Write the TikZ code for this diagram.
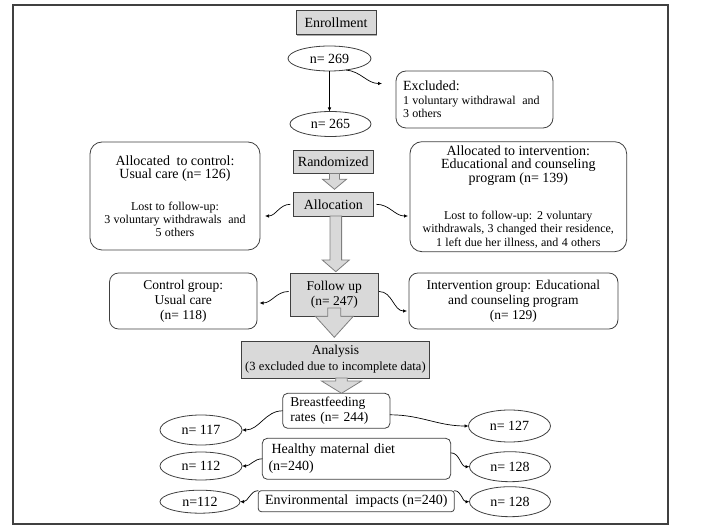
\documentclass[tikz,border=0pt]{standalone}
\usepackage{fontspec}
\setmainfont{Liberation Serif}
\usetikzlibrary{shapes.geometric,arrows.meta,calc,shadows}

\definecolor{boxgray}{HTML}{D9D9D9}
\definecolor{edgecol}{HTML}{404040}
\definecolor{arrowedge}{HTML}{7F7F7F}

\tikzset{
  every node/.style={inner sep=0pt, outer sep=0pt},
  graybox/.style={draw=edgecol, fill=boxgray, line width=0.8pt, rectangle},
  roundbox/.style={draw=edgecol, fill=white, line width=0.8pt, rectangle},
  ovalnode/.style={draw=edgecol, fill=white, line width=0.8pt, ellipse},
  conn/.style={draw=black, line width=0.7pt, -{Latex[length=4pt,width=3.6pt]}},
  blockarr/.style={draw=arrowedge, fill=boxgray, line width=0.8pt, line join=miter},
  txtbig/.style={font=\fontsize{14}{14}\selectfont},
  txtmid/.style={font=\fontsize{13.5}{15}\selectfont},
}

% block arrow: #1 from, #2 to, #3 x offset, #4 shaft half, #5 head half, #6 head length, #7 tip gap
\newcommand{\blkarrow}[7]{%
  \draw[blockarr] let \p1=#1, \p2=#2 in
    (\x1+#3-#4,\y1) -- (\x1+#3-#4,\y2+#7+#6) -- (\x1+#3-#5,\y2+#7+#6)
    -- (\x1+#3,\y2+#7) -- (\x1+#3+#5,\y2+#7+#6) -- (\x1+#3+#4,\y2+#7+#6)
    -- (\x1+#3+#4,\y1) -- cycle;}

\begin{document}
\begin{tikzpicture}[x=1pt,y=-1pt]
\useasboundingbox (0,0) rectangle (705,529);
\draw[edgecol, line width=1.3pt] (13,5) rectangle (668,524);

% top
\node[graybox, txtbig, minimum width=80pt, minimum height=23.5pt,
      drop shadow={shadow xshift=1.3pt, shadow yshift=-1.3pt, fill=gray!80, opacity=0.8}]
      (enroll) at (336,22.5) {Enrollment};
\node[ovalnode, txtbig, minimum width=83pt, minimum height=25pt] (n269) at (329.5,58.5) {n= 269};
\node[ovalnode, txtbig, minimum width=81pt, minimum height=25pt] (n265) at (330.5,124) {n= 265};
\node[roundbox, rounded corners=10pt, minimum width=157pt, minimum height=57pt,
      text width=143pt, align=left] (excl) at (474.5,99.5)
  {{\fontsize{14}{14}\selectfont Excluded:\par}{\fontsize{12}{13.5}\selectfont 1 voluntary withdrawal\ \ and\\3 others\par}};
\coordinate (exA) at (382,83.5);
\draw[conn] (n269.south) -- (n269.south |- n265.north);
\draw[conn] (n269.-35) to[out=-5,in=180] (exA);

% randomization / allocation
\node[graybox, txtbig, minimum width=80pt, minimum height=23.5pt] (random) at (333.3,161.7) {Randomized};
\node[graybox, txtbig, minimum width=80pt, minimum height=23.5pt] (alloc) at (333.3,204.3) {Allocation};
\blkarrow{(random.south)}{(alloc.north)}{1.2}{5}{12}{10}{3.3}

\node[roundbox, rounded corners=12pt, minimum width=170pt, minimum height=108pt,
      text width=164pt, align=center] (ctrl) at (175,196)
  {{\fontsize{14}{13.6}\selectfont Allocated\ \ to control:\\Usual care (n= 126)\par}\vspace{18.5pt}%
   {\fontsize{12}{13}\selectfont Lost to follow-up:\\3 voluntary withdrawals\ \ and\\5 others\par}};
\node[roundbox, rounded corners=12pt, minimum width=216.7pt, minimum height=110pt,
      text width=210pt, align=center] (interv) at (518.3,196.7)
  {{\fontsize{14}{13.8}\selectfont Allocated to intervention:\\Educational and counseling\\program (n= 139)\par}\vspace{23pt}%
   {\fontsize{12}{13.5}\selectfont Lost to follow-up: 2 voluntary\\withdrawals,\ 3 changed their residence,\\1 left due her illness, and 4 others\par}};
\coordinate (alA) at (265,216);
\coordinate (alB) at (408,216);
\draw[conn] ([xshift=-3pt]alloc.west) to[out=180,in=0] (alA);
\draw[conn] ([xshift=3pt]alloc.east) to[out=0,in=180] (alB);

% follow up
\node[graybox, txtmid, minimum width=87.5pt, minimum height=43pt, align=center] (followup) at (334.3,294.5) {Follow up\\(n= 247)};
\blkarrow{(alloc.south)}{(followup.north)}{2.5}{5.8}{13.5}{11.7}{1.3}
\node[roundbox, rounded corners=9pt, txtmid, minimum width=147.5pt, minimum height=56pt, align=center] (ctrlgrp) at (183.3,301) {Control group:\\Usual care\\(n= 118)};
\node[roundbox, rounded corners=9pt, txtmid, minimum width=209pt, minimum height=56pt, align=center] (intgrp) at (513.4,301) {Intervention group: Educational\\and counseling program\\(n= 129)};
\coordinate (fuA) at (259.5,303);
\coordinate (fuB) at (407,311);
\draw[conn] ([xshift=-2pt,yshift=3pt]followup.west) to[out=180,in=0] (fuA);
\draw[conn] ([xshift=1pt,yshift=3pt]followup.east) to[out=0,in=180] (fuB);

% analysis
\node[graybox, minimum width=187.3pt, minimum height=37pt, text width=185pt, align=center] (analysis) at (335.4,359.5)
  {{\fontsize{13.5}{14}\selectfont Analysis\par}{\fontsize{12.5}{16}\selectfont (3 excluded due to incomplete\ data)\par}};
\blkarrow{([yshift=8pt]followup.south)}{(analysis.north)}{0}{6.5}{19}{21}{3.7}

% outcomes
\node[roundbox, rounded corners=5pt, minimum width=107.3pt, minimum height=35pt,
      text width=92pt, align=left, font=\fontsize{13.5}{15}\selectfont] (breast) at (336.3,410.8)
  {Breastfeeding\\rates (n= 244)};
\blkarrow{(analysis.south)}{(breast.north)}{6.1}{5.8}{20}{12.3}{0}
\node[roundbox, rounded corners=5pt, minimum width=188.4pt, minimum height=41pt,
      text width=176pt, align=left, font=\fontsize{14}{16.6}\selectfont] (healthy) at (356.5,458.8)
  {\hspace{3pt}Healthy maternal diet\\(n=240)};
\node[roundbox, rounded corners=3pt, minimum width=196pt, minimum height=21pt,
      txtbig] (env) at (356.3,501.2) {Environmental\ \ impacts (n=240)};

\node[ovalnode, txtbig, minimum width=82pt, minimum height=30pt] (n117) at (201,430) {n= 117};
\node[ovalnode, txtbig, minimum width=82pt, minimum height=32pt] (n127) at (509.5,426) {n= 127};
\node[ovalnode, txtbig, minimum width=82pt, minimum height=28pt] (n112) at (201,466) {n= 112};
\node[ovalnode, txtbig, minimum width=81pt, minimum height=30pt] (n128) at (510,466.7) {n= 128};
\node[ovalnode, txtbig, minimum width=80pt, minimum height=23pt] (n112b) at (200,501.7) {n=112};
\node[ovalnode, txtbig, minimum width=81pt, minimum height=30pt] (n128b) at (510,501.7) {n= 128};

\draw[conn] (breast.west) to[out=180,in=0] (n117.east);
\draw[conn] ([yshift=-4pt]breast.east) to[out=0,in=180] (n127.west);
\draw[conn] (healthy.west) to[out=180,in=0] (n112.east);
\draw[conn] ([yshift=6pt]healthy.east) to[out=0,in=180] (n128.west);
\draw[conn] (env.north west) to[out=180,in=0] (n112b.east);
\draw[conn] (env.north east) to[out=0,in=180] (n128b.west);
\end{tikzpicture}
\end{document}
